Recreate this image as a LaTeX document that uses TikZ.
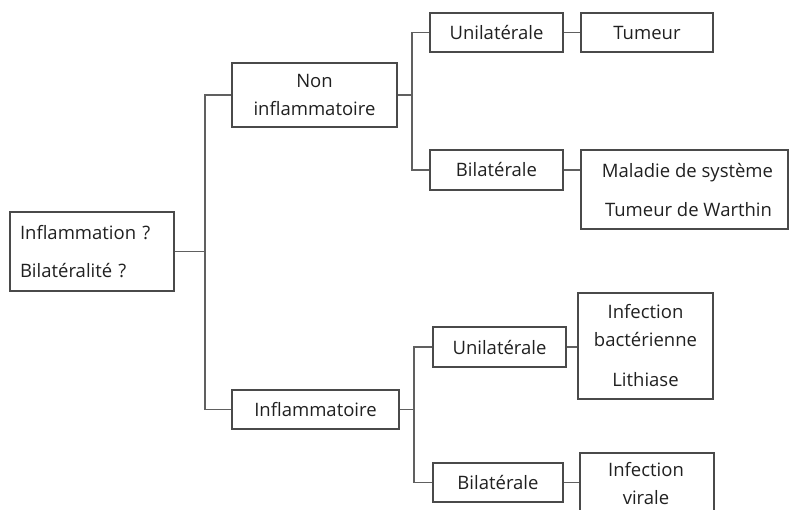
\documentclass[tikz,border=0pt]{standalone}
\usepackage{fontspec}
\setmainfont{Open Sans}
\begin{document}
\begin{tikzpicture}[x=1pt,y=-1pt,
  box/.style={draw=boxc, line width=1.7pt, inner sep=0pt, text=txtc,
    font=\fontsize{18.5}{28}\selectfont, align=center},
  link/.style={draw=linkc, line width=1.9pt}]
\definecolor{boxc}{HTML}{4A4A4A}
\definecolor{linkc}{HTML}{606060}
\definecolor{txtc}{HTML}{202020}
\useasboundingbox (0,0) rectangle (790,509);
\begin{scope}
\clip (0,0) rectangle (790,509);
% nodes
\node[box, minimum width=164pt, minimum height=79pt, align=left, text width=144pt,
  font=\fontsize{18.5}{38}\selectfont] (root) at (92,251.5) {Inflammation ?\\Bilatéralité ?};
\node[box, minimum width=165pt, minimum height=64pt] (noninf) at (314.5,95) {Non\\inflammatoire};
\node[box, minimum width=167pt, minimum height=39pt] (inf) at (315.5,409.5) {Inflammatoire};
\node[box, minimum width=133pt, minimum height=39pt] (uni1) at (496.5,32.5) {Unilatérale};
\node[box, minimum width=132pt, minimum height=39pt] (tum) at (647,32.5) {Tumeur};
\node[box, minimum width=133pt, minimum height=40pt] (bi1) at (496.5,170) {Bilatérale};
\node[box, minimum width=207pt, minimum height=79pt, font=\fontsize{18.5}{39}\selectfont] (mal) at (684.5,189.5) {\hspace*{6pt}Maladie de système\\\hspace*{8pt}Tumeur de Warthin};
\node[box, minimum width=133pt, minimum height=40pt] (uni2) at (499.5,347) {Unilatérale};
\node[box, minimum width=135pt, minimum height=106pt] (bact) at (645.5,346) {Infection\\bactérienne\\[12pt]Lithiase};
\node[box, minimum width=130pt, minimum height=39pt] (bi2) at (498,482.5) {Bilatérale};
\node[box, minimum width=134pt, minimum height=72pt, anchor=north] (vir) at (647,452) {};
\node[text=txtc, font=\fontsize{18.5}{28}\selectfont, align=center, anchor=north, inner sep=0pt] (virt) at (646,462) {Infection\\virale};
% bus coordinates
\coordinate (b0) at (205,0);
\coordinate (b1) at (412,0);
\coordinate (b2) at (414,0);
% connectors
\draw[link] (root.east) -- (root.east -| b0);
\draw[link] (noninf.west) -- (noninf.west -| b0) -- (inf.west -| b0) -- (inf.west);
\draw[link] (noninf.east) -- (noninf.east -| b1);
\draw[link] (uni1.west) -- (uni1.west -| b1) -- (bi1.west -| b1) -- (bi1.west);
\draw[link] (uni1.east) -- (tum.west);
\draw[link] (bi1.east) -- (bi1.east -| mal.west);
\draw[link] (inf.east) -- (inf.east -| b2);
\draw[link] (uni2.west) -- (uni2.west -| b2) -- (bi2.west -| b2) -- (bi2.west);
\draw[link] (uni2.east) -- (uni2.east -| bact.west);
\draw[link] (bi2.east) -- (bi2.east -| vir.west);
\end{scope}
\end{tikzpicture}
\end{document}
